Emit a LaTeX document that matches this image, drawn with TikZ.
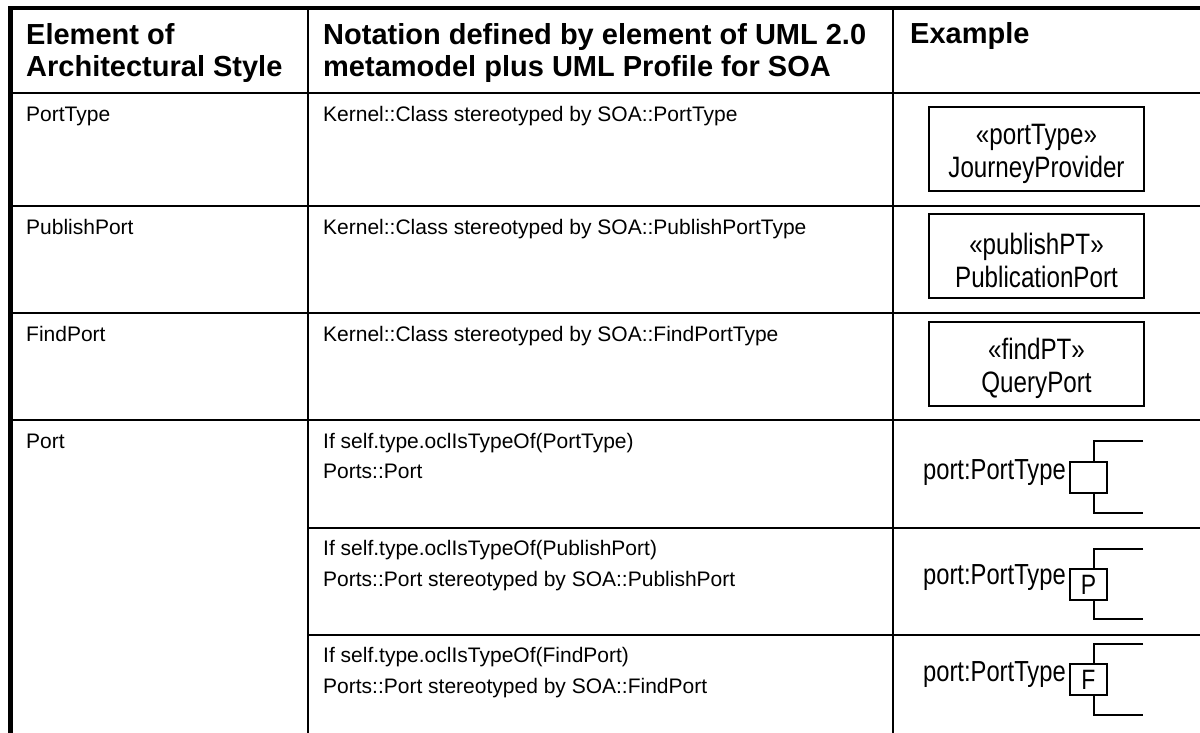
\documentclass[tikz,border=0pt]{standalone}
\usepackage{fontspec}
\setmainfont{Liberation Sans}
\newfontfamily\narrowfont[FakeStretch=0.82]{Liberation Sans}
\usepackage{tikz}
\usetikzlibrary{positioning}

\newcommand{\boxstrut}{\rule{0pt}{31pt}}

\begin{document}
\begin{tikzpicture}[x=1pt, y=-1pt,
    rule/.style={line width=2pt},
    frame/.style={line width=4.5pt},
    head/.style={anchor=base west, inner sep=0pt, font=\fontsize{29}{32}\selectfont\bfseries},
    cell/.style={anchor=base west, inner sep=0pt, font=\fontsize{21}{30}\selectfont},
    umlclass/.style={draw, line width=1.3pt, minimum width=215pt, minimum height=84pt,
      inner sep=0pt, align=center, font=\narrowfont\fontsize{29.5}{33}\selectfont},
    portsq/.style={draw, line width=1.3pt, minimum width=37pt, minimum height=31pt,
      inner sep=0pt, font=\narrowfont\fontsize{28}{28}\selectfont},
    portname/.style={anchor=base east, inner sep=0pt, font=\narrowfont\fontsize{29}{29}\selectfont},
    bracket/.style={line width=1.5pt}]
  \useasboundingbox (0,0) rectangle (1200,733);
  % grid of the table
  \draw[frame] (1200,8) -- (10.5,8) -- (10.5,733);
  \draw[rule] (308,8) -- (308,733);
  \draw[rule] (893,8) -- (893,733);
  \foreach \y in {93,206,313,420}
    \draw[rule] (10.5,\y) -- (1200,\y);
  \foreach \y in {528,635}
    \draw[rule] (308,\y) -- (1200,\y);
  % header
  \node[head] (hElemA) at (26,45) {Element of};
  \node[head] (hElemB) at (26,77) {Architectural Style};
  \node[head] (hNotaA) at (323,45) {Notation defined by element of UML 2.0};
  \node[head] (hNotaB) at (323,77) {metamodel plus UML Profile for SOA};
  \node[head] (hEx) at (910,44) {Example};
  % first column
  \node[cell] (ePortType) at (26,122) {PortType};
  \node[cell] (ePublish)  at (26,234) {PublishPort};
  \node[cell] (eFind)     at (26,341) {FindPort};
  \node[cell] (ePort)     at (26,448) {Port};
  % second column
  \node[cell] (nPortType) at (323,122) {Kernel::Class stereotyped by SOA::PortType};
  \node[cell] (nPublish)  at (323,234) {Kernel::Class stereotyped by SOA::PublishPortType};
  \node[cell] (nFind)     at (323,341) {Kernel::Class stereotyped by SOA::FindPortType};
  \node[cell] (nPortA)    at (323,448) {If self.type.oclIsTypeOf(PortType)};
  \node[cell] (nPortB)    at (323,478) {Ports::Port};
  \node[cell] (nPubA)     at (323,555) {If self.type.oclIsTypeOf(PublishPort)};
  \node[cell] (nPubB)     at (323,586) {Ports::Port stereotyped by SOA::PublishPort};
  \node[cell] (nFindA)    at (323,662) {If self.type.oclIsTypeOf(FindPort)};
  \node[cell] (nFindB)    at (323,693) {Ports::Port stereotyped by SOA::FindPort};
  % examples: classes
  \node[umlclass] (cJourney) at (1036.5,149) {\boxstrut«portType»\\JourneyProvider};
  \node[umlclass] (cPublish) at (1036.5,256) {\boxstrut«publishPT»\\PublicationPort};
  \node[umlclass] (cQuery)   at (1036.5,364) {\boxstrut«findPT»\\QueryPort};
  % examples: ports
  \node[portsq] (sqPort) at (1088.5,477.5) {};
  \node[portsq] (sqPub)  at (1088.5,584.5) {P};
  \node[portsq] (sqFind) at (1088.5,679.5) {F};
  \node[portname] (lPort) at (1066,479) {port:PortType};
  \node[portname] (lPub)  at (1066,584) {port:PortType};
  \node[portname] (lFind) at (1066,681) {port:PortType};
  \draw[bracket] (1143,441) -- (1094,441) -- (sqPort.north -| 1094,0);
  \draw[bracket] (sqPort.south -| 1094,0) -- (1094,513) -- (1143,513);
  \draw[bracket] (1143,549) -- (1094,549) -- (sqPub.north -| 1094,0);
  \draw[bracket] (sqPub.south -| 1094,0) -- (1094,619) -- (1143,619);
  \draw[bracket] (1143,644) -- (1094,644) -- (sqFind.north -| 1094,0);
  \draw[bracket] (sqFind.south -| 1094,0) -- (1094,715) -- (1143,715);
\end{tikzpicture}
\end{document}
